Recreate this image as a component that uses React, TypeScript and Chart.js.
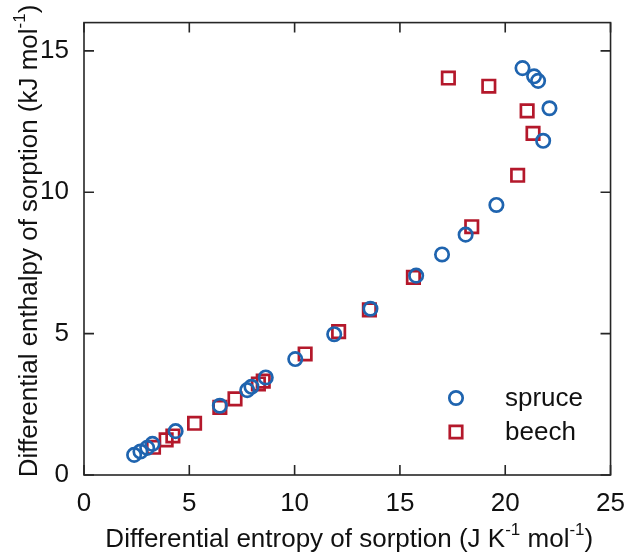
import React, { useEffect, useRef } from "react";
import { Chart, registerables } from "chart.js";

Chart.register(...registerables);

const spruceX = [2.38, 2.68, 3.0, 3.25, 4.35, 6.45, 7.75, 7.95, 8.63, 10.03, 11.88, 13.6, 15.77, 17.0, 18.12, 19.58, 21.8, 22.1, 21.56, 21.37, 20.82];
const spruceY = [0.71, 0.83, 0.96, 1.1, 1.55, 2.45, 3.0, 3.12, 3.45, 4.1, 4.98, 5.88, 7.05, 7.8, 8.5, 9.55, 11.82, 12.97, 13.94, 14.1, 14.39];
const beechX = [3.3, 3.9, 4.22, 5.25, 6.45, 7.17, 8.28, 8.51, 10.5, 12.09, 13.55, 15.64, 18.41, 20.59, 21.32, 21.04, 19.22, 17.3];
const beechY = [0.98, 1.24, 1.38, 1.83, 2.39, 2.69, 3.22, 3.32, 4.28, 5.07, 5.84, 6.99, 8.78, 10.6, 12.08, 12.88, 13.75, 14.04];

const seriesNames = ["spruce", "beech"];
const xTickValues = [0, 5, 10, 15, 20, 25];
const yTickValues = [0, 5, 10, 15];
const xTitleParts: [string, boolean][] = [
  ["Differential entropy of sorption (J K", false],
  ["-1", true],
  [" mol", false],
  ["-1", true],
  [")", false],
];
const yTitleParts: [string, boolean][] = [
  ["Differential enthalpy of sorption (kJ mol", false],
  ["-1", true],
  [")", false],
];

const BLUE = "rgb(31,100,175)";
const RED = "rgb(180,24,43)";
const AXIS = "#262626";
const TEXT = "#111111";
const FONT = "'Liberation Sans', Arial, Helvetica, sans-serif";
const FS = 26;

function drawParts(ctx: CanvasRenderingContext2D, parts: [string, boolean][], cx: number, cy: number) {
  const main = `${FS}px ${FONT}`;
  const sup = `17px ${FONT}`;
  let total = 0;
  for (const [t, s] of parts) {
    ctx.font = s ? sup : main;
    total += ctx.measureText(t).width;
  }
  let x = cx - total / 2;
  ctx.textBaseline = "middle";
  ctx.textAlign = "left";
  for (const [t, s] of parts) {
    ctx.font = s ? sup : main;
    ctx.fillText(t, x, s ? cy - 10 : cy);
    x += ctx.measureText(t).width;
  }
}

const decorPlugin = {
  id: "decor",
  afterDatasetsDraw(chart: any) {
    const { ctx, chartArea: a, scales } = chart;
    const xs = scales.x;
    const ys = scales.y;
    ctx.save();
    ctx.strokeStyle = AXIS;
    ctx.lineWidth = 1.6;
    ctx.strokeRect(a.left, a.top, a.right - a.left, a.bottom - a.top);
    const tl = 10;
    ctx.beginPath();
    for (const v of xTickValues) {
      const px = xs.getPixelForValue(v);
      ctx.moveTo(px, a.bottom);
      ctx.lineTo(px, a.bottom - tl);
      ctx.moveTo(px, a.top);
      ctx.lineTo(px, a.top + tl);
    }
    for (const v of yTickValues) {
      const py = ys.getPixelForValue(v);
      ctx.moveTo(a.left, py);
      ctx.lineTo(a.left + tl, py);
      ctx.moveTo(a.right, py);
      ctx.lineTo(a.right - tl, py);
    }
    ctx.stroke();

    // Axis titles
    ctx.fillStyle = TEXT;
    drawParts(ctx, xTitleParts, (a.left + a.right) / 2 + 2, 540);
    ctx.save();
    ctx.translate(30, 241);
    ctx.rotate(-Math.PI / 2);
    drawParts(ctx, yTitleParts, 0, 0);
    ctx.restore();

    // Legend
    const lx = 456;
    const rows = [398, 432];
    chart.data.datasets.forEach((ds: any, i: number) => {
      const y = rows[i];
      ctx.strokeStyle = ds.borderColor;
      ctx.lineWidth = ds.borderWidth;
      ctx.beginPath();
      if (ds.pointStyle === "circle") {
        ctx.arc(lx, y, ds.pointRadius, 0, Math.PI * 2);
      } else {
        const h = ds.pointRadius * Math.SQRT1_2;
        ctx.rect(lx - h, y - h, 2 * h, 2 * h);
      }
      ctx.stroke();
      ctx.fillStyle = TEXT;
      ctx.font = `${FS}px ${FONT}`;
      ctx.textAlign = "left";
      ctx.textBaseline = "middle";
      ctx.fillText(ds.label, 505, y + 1);
    });
    ctx.restore();
  },
};

export default function App() {
  const ref = useRef<HTMLCanvasElement>(null);
  useEffect(() => {
    if (!ref.current) return;
    const chart = new Chart(ref.current, {
      type: "scatter",
      data: {
        datasets: [
          {
            label: seriesNames[0],
            data: spruceX.map((x, i) => ({ x, y: spruceY[i] })),
            pointStyle: "circle",
            pointRadius: 6.7,
            borderWidth: 2.7,
            borderColor: BLUE,
            backgroundColor: "rgba(0,0,0,0)",
          },
          {
            label: seriesNames[1],
            data: beechX.map((x, i) => ({ x, y: beechY[i] })),
            pointStyle: "rect",
            pointRadius: 8.8,
            borderWidth: 2.7,
            borderColor: RED,
            backgroundColor: "rgba(0,0,0,0)",
          },
        ],
      },
      options: {
        animation: false,
        responsive: false,
        layout: { padding: { top: 22, right: 17, left: 0, bottom: 0 } },
        plugins: {
          legend: { display: false },
          tooltip: { enabled: false },
        },
        scales: {
          x: {
            type: "linear",
            min: 0,
            max: 25,
            grid: { display: false },
            border: { display: false },
            ticks: {
              stepSize: 5,
              padding: 5,
              color: TEXT,
              font: { family: FONT, size: FS },
              maxRotation: 0,
            },
            afterBuildTicks: (s: any) => {
              s.ticks = xTickValues.map((v) => ({ value: v }));
            },
            afterFit: (s: any) => {
              s.height = 81;
            },
          },
          y: {
            type: "linear",
            min: 0,
            max: 16,
            grid: { display: false },
            border: { display: false },
            ticks: {
              stepSize: 5,
              padding: 7,
              color: TEXT,
              font: { family: FONT, size: FS },
            },
            afterBuildTicks: (s: any) => {
              s.ticks = yTickValues.map((v) => ({ value: v }));
            },
            afterFit: (s: any) => {
              s.width = 84;
            },
          },
        },
      },
      plugins: [decorPlugin],
    });
    return () => chart.destroy();
  }, []);
  return (
    <div style={{ position: "absolute", left: 0, top: 0, width: 630, height: 556, background: "#fff" }}>
      <canvas ref={ref} width={630} height={556} style={{ width: 630, height: 556 }} />
    </div>
  );
}
